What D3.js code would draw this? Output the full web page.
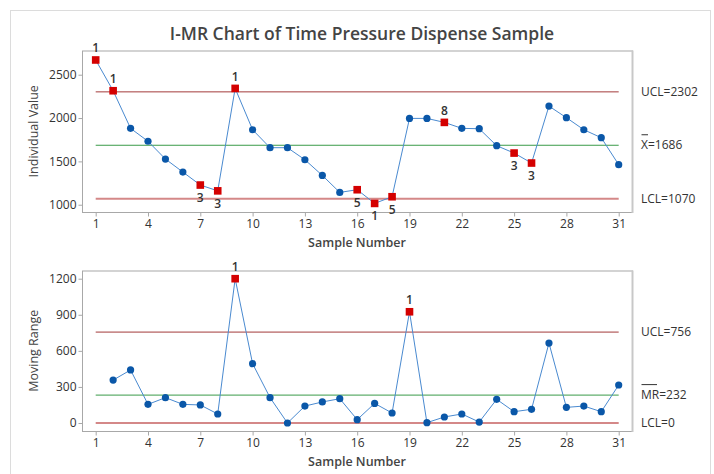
<!DOCTYPE html>
<html><head><meta charset="utf-8">
<script src="https://cdn.jsdelivr.net/npm/d3@7"></script>
<style>
body{margin:0;background:#fff;}
svg text{font-family:"Open Sans","Noto Sans",sans-serif;fill:#333;}
</style></head>
<body>
<svg id="c" width="714" height="474"></svg>
<script>
const samples = d3.range(1, 32);
const individual = [2670,2315,1881,1732,1527,1377,1227,1160,2342,1865,1658,1658,1519,1338,1142,1173,1015,1092,1996,1996,1950,1881,1877,1681,1596,1481,2138,2004,1865,1773,1462];
const movingRange = [null,357,441,155,211,155,150,75,1200,493,211,0,141,175,202,28,163,83,925,3,50,75,8,197,94,114,665,130,141,94,316];
const iLimits = {ucl:2302, center:1686, lcl:1070};
const mrLimits = {ucl:756, center:232, lcl:0};
const iFlags = [[1,"1","above"],[2,"1","above"],[7,"3","below"],[8,"3","below"],[9,"1","above"],[16,"5","below"],[17,"1","below"],[18,"5","below"],[21,"8","above"],[25,"3","below"],[26,"3","below"]];
const mrFlags = [[9,"1","above"],[19,"1","above"]];
const xTicks = [1,4,7,10,13,16,19,22,25,28,31];
const iTicks = [1000,1500,2000,2500];
const mrTicks = [0,300,600,900,1200];

const svg = d3.select("#c");
svg.append("rect").attr("x",10.5).attr("y",10.5).attr("width",700).attr("height",480)
  .attr("fill","#fff").attr("stroke","#dcdcdc");

svg.append("text").attr("x",362).attr("y",40).attr("text-anchor","middle")
  .attr("font-size",17.5).attr("font-weight",600).style("fill","#444").text("I-MR Chart of Time Pressure Dispense Sample");

const x = d3.scaleLinear().domain([1,31]).range([95.7,618.7]);

function panel(cfg){
  const {y, values, limits, flags, ticks, yLabel, ctrNames, top, bottom} = cfg;
  const g = svg.append("g");
  g.append("rect").attr("x",82.5).attr("y",top+0.5).attr("width",550).attr("height",bottom-top)
    .attr("fill","none").attr("stroke","#a8a8a8").attr("stroke-width",1);
  g.append("line").attr("x1",632.5).attr("x2",632.5).attr("y1",top).attr("y2",bottom+1)
    .attr("stroke","#c8c8c8").attr("stroke-width",2);
  const xa = g.append("g").attr("transform",`translate(0,${bottom+0.5})`)
    .call(d3.axisBottom(x).tickValues(xTicks).tickFormat(d3.format("d")).tickSize(4).tickSizeOuter(0).tickPadding(3));
  const ya = g.append("g").attr("transform",`translate(82.5,0)`)
    .call(d3.axisLeft(y).tickValues(ticks).tickFormat(d3.format("d")).tickSize(4).tickSizeOuter(0).tickPadding(2));
  [xa,ya].forEach(a=>{
    a.select(".domain").remove();
    a.selectAll(".tick line").attr("stroke","#a8a8a8");
    a.selectAll(".tick text").attr("font-size",12).style("fill","#333")
      .style("font-family","'Open Sans','Noto Sans',sans-serif");
  });
  g.append("text").attr("x",357).attr("y",bottom+35).attr("text-anchor","middle")
    .attr("font-size",12.5).attr("font-weight",600).style("fill","#444").text("Sample Number");
  g.append("text").attr("transform",`translate(38,${(top+bottom)/2}) rotate(-90)`)
    .attr("text-anchor","middle").attr("font-size",12.5).attr("font-weight",500).style("fill","#444").text(yLabel);
  const cl = [[limits.ucl,"#a33a3a",1],[limits.center,"#3a9a48",1],[limits.lcl,"#d48888",2]];
  cl.forEach(([v,c,w])=>{
    g.append("line").attr("x1",x(1)).attr("x2",x(31)).attr("y1",y(v)).attr("y2",y(v))
      .attr("stroke",c).attr("stroke-width",w);
  });
  const lx = 641;
  g.append("text").attr("x",lx).attr("y",y(limits.ucl)+4).attr("font-size",12).text("UCL="+limits.ucl);
  g.append("text").attr("x",lx).attr("y",y(limits.center)+4).attr("font-size",12).text(ctrNames+"="+limits.center);
  const barW = ctrNames.length===1 ? 7 : 16;
  g.append("line").attr("x1",lx+0.5).attr("x2",lx+barW).attr("y1",y(limits.center)-10.5).attr("y2",y(limits.center)-10.5)
    .attr("stroke","#333").attr("stroke-width",1);
  g.append("text").attr("x",lx).attr("y",y(limits.lcl)+4).attr("font-size",12).text("LCL="+limits.lcl);

  const pts = samples.map((s,i)=>({s, v: values[i]})).filter(d=>d.v!==null);
  g.append("path").datum(pts).attr("fill","none").attr("stroke","#4a8ad0").attr("stroke-width",1)
    .attr("d", d3.line().x(d=>x(d.s)).y(d=>y(d.v)));
  const flagged = new Set(flags.map(f=>f[0]));
  g.selectAll("circle.p").data(pts.filter(d=>!flagged.has(d.s))).join("circle")
    .attr("cx",d=>x(d.s)).attr("cy",d=>y(d.v)).attr("r",3.6).attr("fill","#0a57a8");
  g.selectAll("rect.f").data(pts.filter(d=>flagged.has(d.s))).join("rect")
    .attr("x",d=>x(d.s)-3.8).attr("y",d=>y(d.v)-3.8).attr("width",7.6).attr("height",7.6).attr("fill","#d40000");
  flags.forEach(([s,lab,pos])=>{
    const v = values[s-1];
    g.append("text").attr("x",x(s)).attr("y", pos==="above" ? y(v)-7.5 : y(v)+17)
      .attr("text-anchor","middle").attr("font-size",12).attr("font-weight",600).style("fill","#333").text(lab);
  });
}

panel({
  y: d3.scaleLinear().domain([916,2777]).range([212,50.7]),
  values: individual, limits: iLimits, flags: iFlags, ticks: iTicks,
  yLabel: "Individual Value", ctrNames: "X", top: 50.5, bottom: 212
});
panel({
  y: d3.scaleLinear().domain([-66.5,1266.5]).range([431,270.7]),
  values: movingRange, limits: mrLimits, flags: mrFlags, ticks: mrTicks,
  yLabel: "Moving Range", ctrNames: "MR", top: 270.5, bottom: 431
});
</script>
</body></html>
